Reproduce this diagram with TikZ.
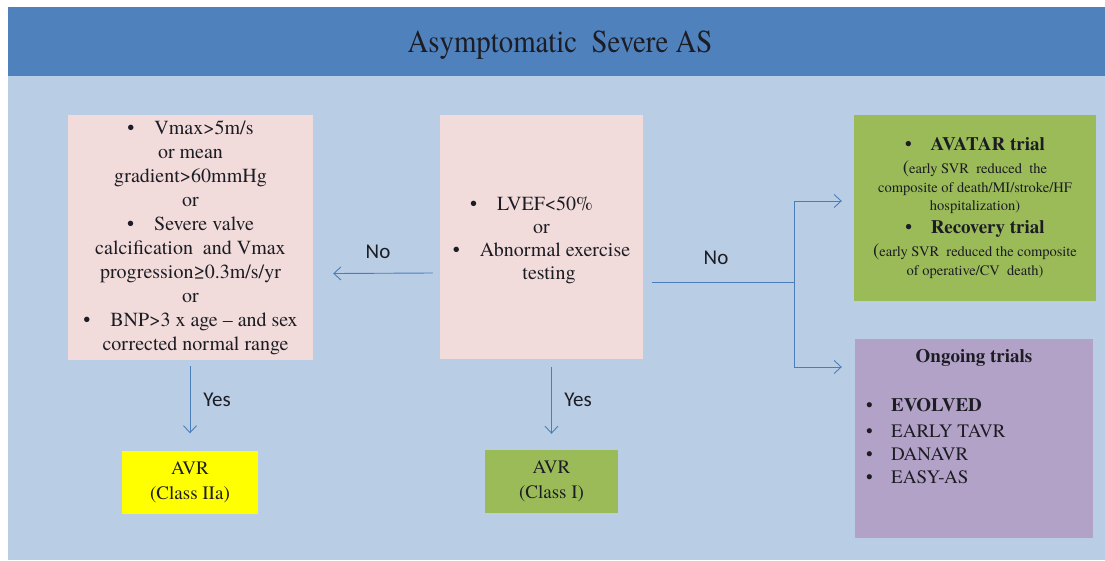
\documentclass[tikz,border=0pt]{standalone}
\usepackage{fontspec}
\IfFontExistsTF{TeX Gyre Termes}{\setmainfont{TeX Gyre Termes}}{\setmainfont{Liberation Serif}}
\newfontfamily\calib{Carlito}
\usetikzlibrary{arrows.meta,calc}
\definecolor{band}{HTML}{4F81BD}
\definecolor{bgc}{HTML}{B9CDE5}
\definecolor{pinkc}{HTML}{F2DCDB}
\definecolor{greenc}{HTML}{9BBB59}
\definecolor{purpc}{HTML}{B3A2C7}
\definecolor{yelc}{HTML}{FFFF00}
\definecolor{arrc}{HTML}{4A7EBB}
\definecolor{txt}{HTML}{1C1C24}
\begin{document}
\begin{tikzpicture}[x=1pt,y=-1pt,
  every node/.style={inner sep=0pt, text=txt},
  arr/.style={draw=arrc, line width=0.9pt, -{Straight Barb[length=7pt,width=13pt]}},
  ln/.style={draw=arrc, line width=0.9pt},
  lab/.style={font=\calib\fontsize{21}{24}\selectfont},
  big/.style={font=\fontsize{20}{24}\selectfont, align=center},
  small/.style={font=\fontsize{14.5}{18}\selectfont, anchor=base},
  bhead/.style={font=\bfseries\fontsize{19}{22}\selectfont, anchor=base},
  item/.style={font=\fontsize{19}{22}\selectfont, anchor=base west}]
\useasboundingbox (0,0) rectangle (1105,560);
\fill[white] (0,0) rectangle (1105,560);
\fill[bgc] (8,76) rectangle (1105,560);
\node[fill=band, minimum width=1097pt, minimum height=69pt, anchor=north west] (title) at (8,7) {};
\node[font=\fontsize{32}{36}\selectfont] (titletext) at (560,45) {\scalebox{0.9}[1]{Asymptomatic\ \ Severe AS}};

% left box
\node[fill=pinkc, minimum width=245pt, minimum height=245pt, big] (lbox) at (190.5,237.5)
 {\textbullet\quad Vmax>5m/s\\ or mean\\ gradient>60mmHg\\ or\\ \textbullet\quad Severe valve\\
  calcification\ \ and Vmax\\ progression≥0.3m/s/yr\\ or\\ \textbullet\quad BNP>3 x age – and sex\\ \ \ corrected normal range};

% center box
\node[fill=pinkc, minimum width=203pt, minimum height=244pt] (cbox) at (541.5,237) {};
\node[big, font=\fontsize{20}{23}\selectfont] (ctext) at (541.5,240)
 {\textbullet\quad LVEF<50\%\phantom{xx}\\ or\\ \textbullet\quad Abnormal exercise\\ \ \ \ testing};

% green trials box
\node[fill=greenc, minimum width=242pt, minimum height=186pt] (gbox) at (975,207.5) {};
\node[bhead] (g1) at (975,150) {\textbullet\quad AVATAR trial};
\node[small] (g2) at (975,173) {{\fontsize{19}{20}\selectfont(}early SVR\ \ reduced\ \ the};
\node[small] (g3) at (975,192) {composite of death/MI/stroke/HF};
\node[small] (g4) at (975,210) {hospitalization)};
\node[bhead] (g5) at (975,233) {\textbullet\quad Recovery trial};
\node[small] (g6) at (975,256) {{\fontsize{19}{20}\selectfont(}early SVR\ \ reduced the composite};
\node[small] (g7) at (975,275) {of operative/CV\ \ death)};

% purple ongoing box
\node[fill=purpc, minimum width=238pt, minimum height=199pt] (pbox) at (974,438.5) {};
\node[bhead] (p0) at (974,362) {Ongoing trials};
\node[item] (p1) at (866,411) {\makebox[25pt][l]{\textbullet}\textbf{EVOLVED}};
\node[item] (p2) at (866,437) {\makebox[25pt][l]{\textbullet}EARLY TAVR};
\node[item] (p3) at (866,460) {\makebox[25pt][l]{\textbullet}DANAVR};
\node[item] (p4) at (866,483) {\makebox[25pt][l]{\textbullet}EASY-AS};

% AVR boxes
\node[fill=yelc, minimum width=136pt, minimum height=63pt, align=center, font=\fontsize{19}{25}\selectfont] (ybox) at (190,482) {AVR\\(Class IIa)};
\node[fill=greenc, minimum width=133pt, minimum height=63pt, align=center, font=\fontsize{19}{25}\selectfont] (abox) at (551.5,481.5) {AVR\\(Class I)};

% connectors
\draw[arr] ($(cbox.west)+(-7,36)$) -- ($(lbox.east)+(20,36)$);
\draw[arr] ($(lbox.south -| ybox.north)+(0,6)$) -- ($(ybox.north)+(0,-17)$);
\draw[arr] ($(cbox.south -| abox.north)+(0,8)$) -- ($(abox.north)+(0,-16)$);
\coordinate (split) at (794,282);
\draw[ln] ($(cbox.east)+(9,45)$) -- (split);
\draw[arr] (split) |- ($(gbox.west)+(-12,-6.5)$);
\draw[arr] (split) |- ($(pbox.west)+(-13,-71.5)$);

% labels
\node[lab] (no1) at (378,252) {No};
\node[lab] (no2) at (716,258) {No};
\node[lab] (yes1) at (217,400) {Yes};
\node[lab] (yes2) at (578,400) {Yes};
\end{tikzpicture}
\end{document}
